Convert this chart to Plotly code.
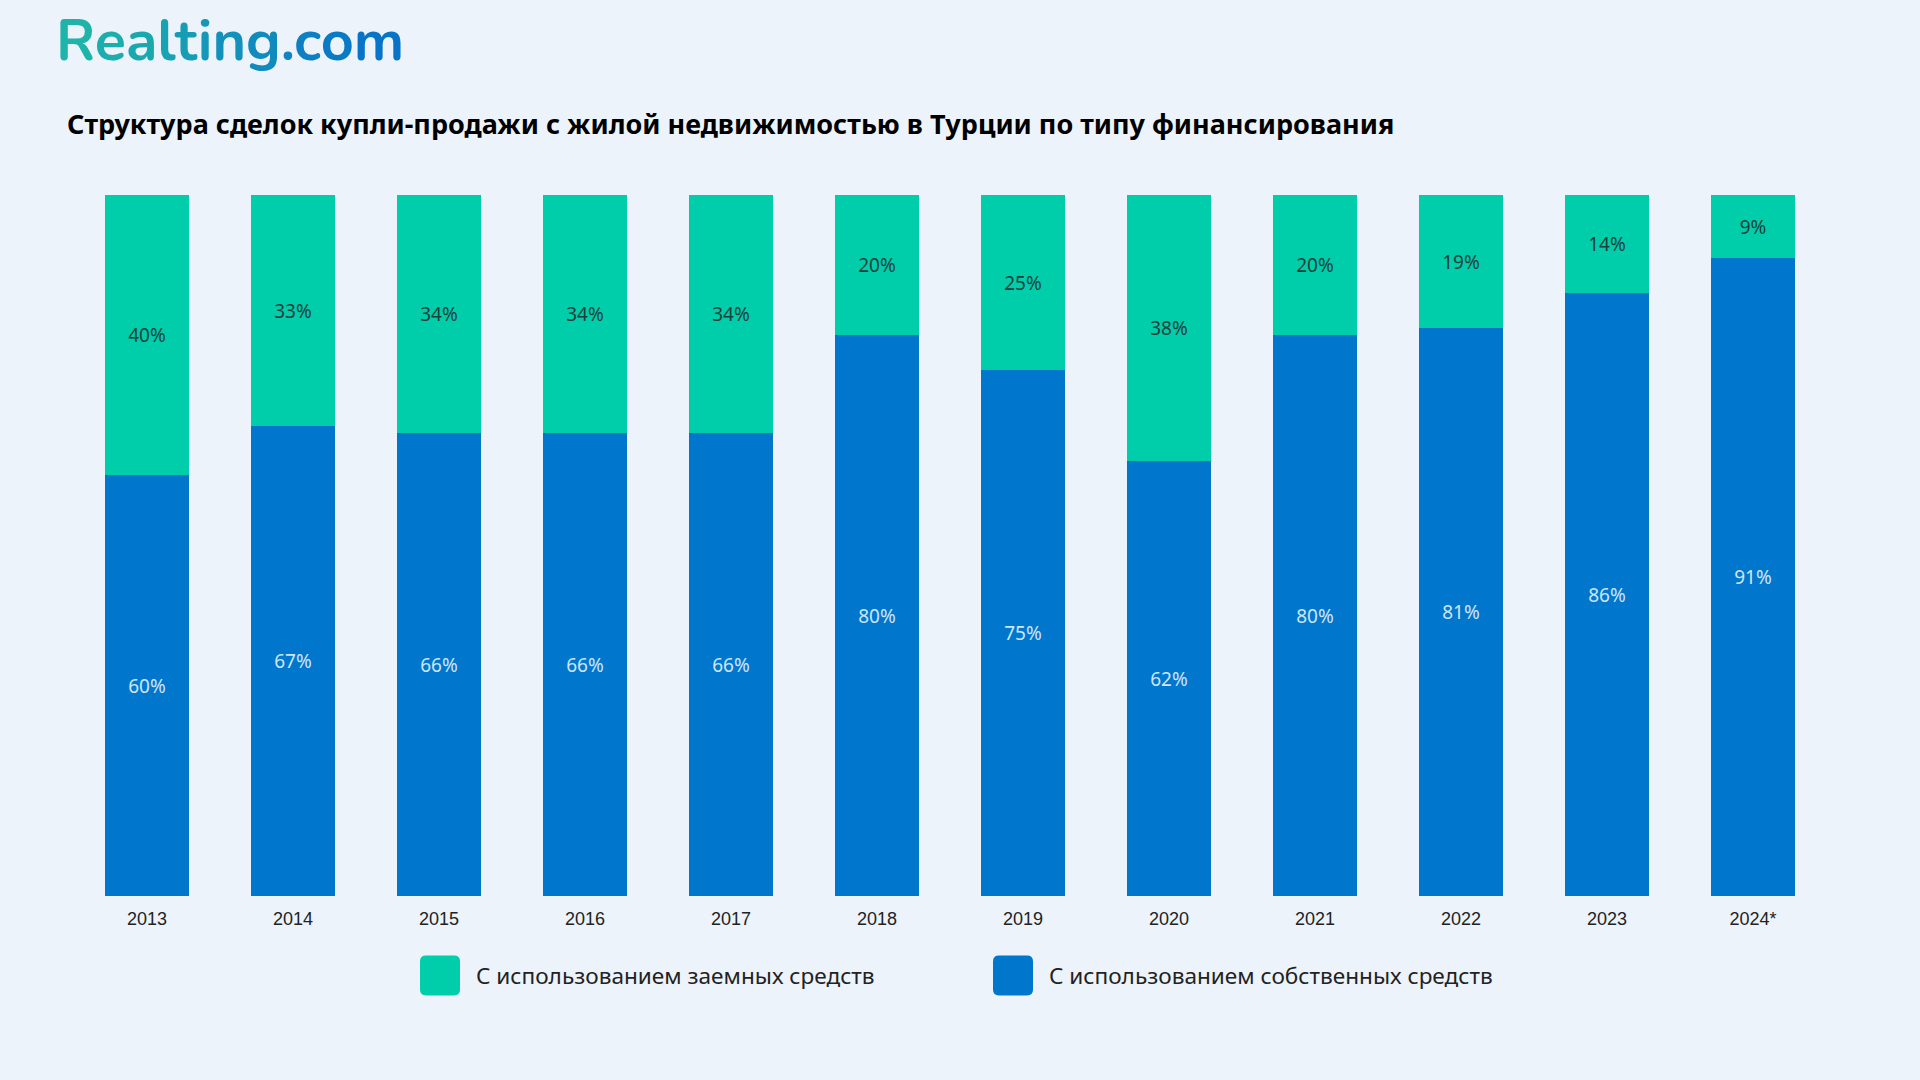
import plotly.graph_objects as go

# ---- data ----
years = ["2013", "2014", "2015", "2016", "2017", "2018", "2019", "2020", "2021", "2022", "2023", "2024*"]
borrowed = [40, 33, 34, 34, 34, 20, 25, 38, 20, 19, 14, 9]
own = [60, 67, 66, 66, 66, 80, 75, 62, 80, 81, 86, 91]
series_names = ["С использованием заемных средств", "С использованием собственных средств"]
title_text = "Структура сделок купли-продажи с жилой недвижимостью в Турции по типу финансирования"
logo_text = "Realting.com"

# ---- style ----
W, H = 1920, 1080
BG = "#EDF3FB"
GREEN = "#00CDAA"
BLUE = "#0077CC"
L, R, T, B = 74, 1826, 195, 896.5

fig = go.Figure()
fig.add_trace(go.Bar(
    x=years, y=own, name=series_names[1], marker=dict(color=BLUE, line=dict(width=0)),
    texttemplate="%{y}%", textposition="inside", insidetextanchor="middle", textangle=0,
    textfont=dict(family="Noto Sans, Lato, sans-serif", size=19, color="#CFE5F8"),
    hoverinfo="skip", showlegend=False,
))
fig.add_trace(go.Bar(
    x=years, y=borrowed, name=series_names[0], marker=dict(color=GREEN, line=dict(width=0)),
    texttemplate="%{y}%", textposition="inside", insidetextanchor="middle", textangle=0,
    textfont=dict(family="Noto Sans, Lato, sans-serif", size=19, color="#1E3F3B"),
    hoverinfo="skip", showlegend=False,
))

def px_x(p):
    return (p - L) / (R - L)

def px_y(p):
    return (B - p) / (B - T)

def rounded_rect(x0, y0, x1, y1, r):
    X = px_x; Y = px_y
    return (f"M {X(x0 + r)},{Y(y0)} L {X(x1 - r)},{Y(y0)} Q {X(x1)},{Y(y0)} {X(x1)},{Y(y0 + r)} "
            f"L {X(x1)},{Y(y1 - r)} Q {X(x1)},{Y(y1)} {X(x1 - r)},{Y(y1)} "
            f"L {X(x0 + r)},{Y(y1)} Q {X(x0)},{Y(y1)} {X(x0)},{Y(y1 - r)} "
            f"L {X(x0)},{Y(y0 + r)} Q {X(x0)},{Y(y0)} {X(x0 + r)},{Y(y0)} Z")

shapes = []
annotations = []
legend_items = [(series_names[0], GREEN, 420), (series_names[1], BLUE, 993)]
for name, col, sx in legend_items:
    shapes.append(dict(type="path", xref="paper", yref="paper",
                       path=rounded_rect(sx, 956, sx + 40, 996, 6),
                       fillcolor=col, line=dict(width=0)))
    annotations.append(dict(xref="paper", yref="paper", x=px_x(sx + 54), y=px_y(976),
                            xanchor="left", yanchor="middle", showarrow=False,
                            text=name, font=dict(family="Noto Sans, Lato, sans-serif", size=22.6, color="#222222")))

# title
annotations.append(dict(xref="paper", yref="paper", x=px_x(65), y=px_y(123),
                        xanchor="left", yanchor="middle", showarrow=False,
                        text=f"<b>{title_text}</b>",
                        font=dict(family="Noto Sans, Lato, sans-serif", size=27, color="#000000")))

# logo with gradient-like letter colours
c0 = (30, 180, 170)
c1 = (8, 116, 200)
n = len(logo_text)
spans = []
for i, ch in enumerate(logo_text):
    t = i / (n - 1)
    c = tuple(int(round(c0[k] + (c1[k] - c0[k]) * t)) for k in range(3))
    spans.append(f"<span style='color:rgb{c}'>{ch}</span>")
annotations.append(dict(xref="paper", yref="paper", x=px_x(54), y=px_y(41),
                        xanchor="left", yanchor="middle", showarrow=False,
                        text="<b>" + "".join(spans) + "</b>",
                        font=dict(family="Nunito, Noto Sans, Lato, sans-serif", size=57.5)))

fig.update_layout(
    width=W, height=H, autosize=False,
    paper_bgcolor=BG, plot_bgcolor=BG,
    barmode="stack", bargap=0.425,
    margin=dict(l=L, r=W - R, t=T, b=H - B, pad=0),
    xaxis=dict(type="category", showgrid=False, zeroline=False, showline=False, ticks="",
               tickfont=dict(family="Liberation Sans, Arial, sans-serif", size=18, color="#222222"),
               ticklabelstandoff=10, fixedrange=True),
    yaxis=dict(range=[0, 100], visible=False, showgrid=False, zeroline=False, fixedrange=True),
    shapes=shapes, annotations=annotations,
    uniformtext=dict(minsize=10, mode="show"),
    showlegend=False,
)

fig.write_html("out.html", post_script="document.body.style.margin='0';", config={"displayModeBar": False})
